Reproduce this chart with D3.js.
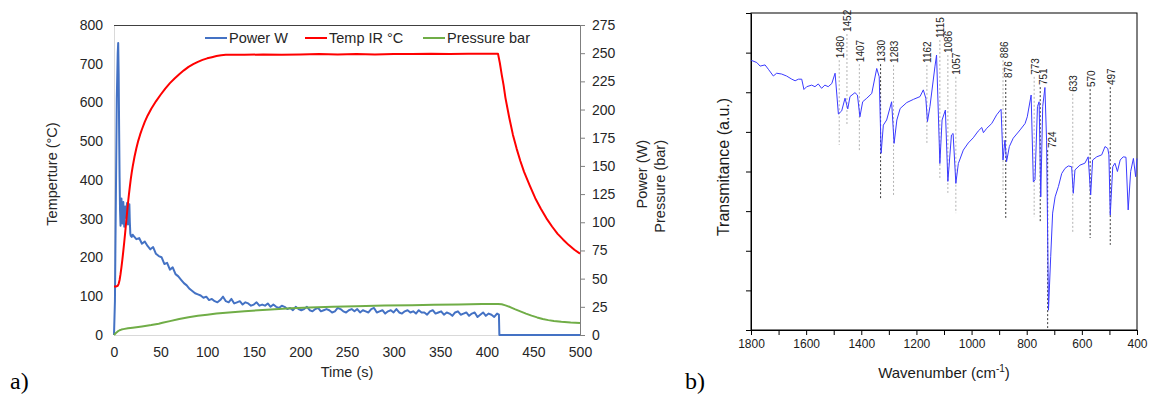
<!DOCTYPE html>
<html>
<head>
<meta charset="utf-8">
<script src="https://cdn.jsdelivr.net/npm/d3@7/dist/d3.min.js"></script>
<style>
  body { margin: 0; background: #fff; }
  svg { display: block; font-family: "Liberation Sans", Arial, sans-serif; }
</style>
</head>
<body>
<div id="chart"></div>
<script>
// ---------- panel a) : heating run ----------
const timeTicks = [0, 50, 100, 150, 200, 250, 300, 350, 400, 450, 500];
const tempTicks = [0, 100, 200, 300, 400, 500, 600, 700, 800];
const rightTicks = [0, 25, 50, 75, 100, 125, 150, 175, 200, 225, 250, 275];
const seriesNames = ['Power W', 'Temp IR °C', 'Pressure bar'];

// Temp IR (°C), left axis
const tempTime = [0, 2, 4, 5, 6, 7, 8, 9, 10, 11, 12, 13, 14, 15, 16, 17, 18, 19, 20, 22, 24, 26, 28, 30, 33, 36, 40, 45,
  50, 55, 60, 65, 70, 75, 80, 85, 90, 95, 100, 105, 110, 115, 120, 140, 160, 180, 200, 220, 240, 260, 280, 300, 320,
  340, 360, 380, 400, 412, 414, 416, 418, 420, 424, 428, 432, 436, 440, 446, 452, 458, 464, 470, 476, 482, 488, 494, 500];
const tempC = [125, 125, 127, 132, 142, 157, 175, 195, 217, 240, 264, 290, 315, 340, 362, 383, 402, 419, 434, 460, 482, 501, 517, 531, 550, 566, 584, 603,
  620, 636, 650, 662, 673, 683, 692, 699, 705, 710, 714, 717, 720, 722, 723, 723, 724, 723, 724, 725, 724, 725, 724, 725, 725,
  726, 725, 726, 726, 726, 702, 672, 645, 612, 562, 517, 481, 449, 421, 386, 353, 326, 301, 280, 261, 246, 232, 220, 210];

// Pressure (bar), right axis
const pressTime = [0, 2, 4, 6, 8, 10, 15, 20, 30, 40, 48, 52, 60, 70, 80, 90, 100, 110, 120, 140, 164, 190, 210, 235, 260,
  290, 320, 343, 370, 395, 412, 416, 420, 425, 430, 436, 442, 448, 454, 460, 466, 472, 480, 490, 500];
const pressBar = [0, 1.8, 3.2, 4.2, 4.8, 5.2, 5.9, 6.5, 7.6, 8.8, 10, 10.8, 12.3, 14.2, 15.8, 17, 18, 19, 19.7, 21, 22.5, 23.7, 24.3, 25, 25.6,
  26.1, 26.5, 26.8, 27.1, 27.4, 27.6, 27.3, 26.3, 24.8, 23, 21, 19, 17.2, 15.6, 14.2, 13.2, 12.4, 11.7, 11.1, 10.7];

// Power (W), right axis: start-up, then logged every 3 s, then switch-off
const powerStartTime = [0, 1, 2, 3, 4, 4.5, 5, 5.5, 6, 6.5, 7, 7.5, 8, 8.5, 9, 9.5, 10, 10.5, 11, 11.5, 12, 12.5, 13, 13.5,
  14, 14.5, 15, 15.5, 16, 16.5, 17, 17.5, 18, 19, 20];
const powerStartW = [0, 30, 120, 210, 250, 259, 232, 182, 140, 110, 97, 108, 121, 110, 99, 106, 118, 103, 96, 108, 114, 110,
  104, 112, 117, 108, 98, 105, 113, 116, 100, 90, 88, 87, 89];
const powerLogStart = 21;
const powerLogStep = 3;
const powerLogW = [
  88, 85, 86, 81, 83, 79, 76, 78, 72, 70,
  69, 63, 64, 58, 60, 54, 52, 49, 46, 44,
  41, 39, 37, 36, 35, 33, 34, 31, 32, 30,
  29, 31, 34, 30, 29, 32, 28, 29, 30, 27,
  29, 28, 26, 27, 29, 26, 27, 26, 28, 25,
  27, 25, 24, 26, 25, 23, 24, 22, 25, 23,
  22, 23, 25, 22, 21, 23, 24, 21, 22, 23,
  22, 20, 21, 24, 23, 21, 20, 22, 23, 21,
  23, 20, 22, 21, 20, 23, 24, 20, 21, 22,
  19, 21, 22, 20, 23, 20, 19, 21, 22, 20,
  21, 19, 22, 20, 20, 18, 21, 22, 19, 20,
  21, 18, 20, 19, 17, 20, 21, 18, 19, 20,
  17, 19, 20, 16, 18, 20, 17, 19, 18, 16,
  19];
const powerEndTime = [413, 413.5, 500];
const powerEndW = [18, 0, 0];

// ---------- panel b) : FTIR spectrum ----------
const wnTicks = [1800, 1700, 1600, 1500, 1400, 1300, 1200, 1100, 1000, 900, 800, 700, 600, 500, 400];
const wnLabels = [1800, 1600, 1400, 1200, 1000, 800, 600, 400];
const transTicks = [0, 1, 2, 3, 4, 5, 6, 7, 8];

const irWn = [1800, 1797, 1779, 1767, 1749, 1737, 1719, 1707, 1689, 1671, 1652, 1640, 1628, 1616, 1608, 1598, 1580, 1568,
  1556, 1544, 1532, 1520, 1507, 1495, 1483, 1471, 1459, 1449, 1441, 1423, 1414, 1405, 1395, 1380, 1362, 1344, 1335, 1328,
  1320, 1308, 1290, 1281, 1271, 1259, 1235, 1211, 1187, 1175, 1166, 1160, 1151, 1133, 1127, 1115, 1107, 1095, 1086, 1073,
  1067, 1057, 1048, 1030, 1012, 994, 976, 963, 957, 945, 927, 909, 893, 886, 879, 873, 863, 849, 824, 806, 798, 784, 776,
  770, 761, 755, 749, 742, 734, 728, 721, 713, 706, 697, 685, 673, 661, 649, 637, 631, 625, 607, 589, 577, 568, 561, 546,
  528, 516, 506, 502, 497, 488, 480, 471, 461, 450, 440, 432, 423, 413, 405, 400];
const irTrans = [6.79, 6.8, 6.75, 6.66, 6.69, 6.58, 6.41, 6.48, 6.46, 6.41, 6.33, 6.29, 6.33, 6.33, 6.07, 6.14, 6.18, 6.14,
  6.21, 6.1, 6.18, 6.14, 6.22, 6.48, 5.45, 5.53, 5.85, 5.58, 5.89, 5.99, 5.93, 5.38, 5.76, 5.85, 5.97, 6.6, 6.39, 4.46,
  5.17, 5.3, 5.76, 4.71, 5.3, 5.59, 5.74, 5.82, 5.89, 6.06, 5.85, 5.26, 5.64, 6.64, 6.94, 4.2, 5.3, 5.55, 3.75, 4.92,
  4.96, 3.7, 4.2, 4.54, 4.72, 4.85, 5.02, 5.11, 4.98, 5.09, 5.21, 5.43, 5.57, 4.29, 4.79, 4.25, 4.63, 4.84, 5.05, 5.21, 5.38, 5.93, 3.74,
  3.79, 5.64, 5.76, 3.36, 5.64, 6.12, 4.79, 0.5, 1.85, 2.95, 3.36, 3.62, 3.95, 4.08, 4.14, 4.12, 3.45, 4.04, 4.16, 4.21, 4.37, 3.41, 4.29, 4.37,
  4.42, 4.63, 4.58, 4.42, 2.9, 4.12, 4.21, 4.0, 4.29, 4.37, 4.36, 3.03, 4.0, 4.33, 3.87, 4.33];

// assigned bands: label level and bottom of the guide line, in transmittance units
const peakWn = [1480, 1452, 1407, 1330, 1283, 1162, 1115, 1086, 1057, 886, 876, 773, 751, 724, 633, 570, 497];
const peakLabelAt = [6.86, 7.52, 6.76, 6.76, 6.74, 6.74, 7.37, 6.99, 6.44, 6.86, 6.36, 6.44, 6.18, 4.59, 6.01, 6.13, 6.18];
const peakLineTo = [4.67, 5.17, 4.54, 3.28, 3.36, 4.67, 3.79, 3.46, 2.95, 3.46, 2.83, 2.85, 2.70, 0.05, 2.47, 2.32, 2.15];
const strongPeaks = [1330, 876, 751, 724, 570, 497];

const svg = d3.select('#chart').append('svg')
  .attr('width', 1149)
  .attr('height', 394);

drawRun();
drawSpectrum();

function drawRun() {
  const x = d3.scaleLinear().domain([0, 500]).range([114, 580]);
  const yT = d3.scaleLinear().domain([0, 800]).range([335, 25]);
  const yR = d3.scaleLinear().domain([0, 275]).range([335, 25]);
  const g = svg.append('g');
  const textCol = '#262626';

  const left = g.append('g').attr('transform', 'translate(114,0)')
    .call(d3.axisLeft(yT).tickValues(tempTicks).tickSize(0).tickPadding(11));
  left.select('.domain').attr('stroke', '#d9d9d9');
  left.selectAll('text').attr('font-size', 14).attr('fill', textCol).attr('font-family', 'Liberation Sans, Arial');

  const bottom = g.append('g').attr('transform', 'translate(0,335)')
    .call(d3.axisBottom(x).tickValues(timeTicks).tickSize(0).tickPadding(12));
  bottom.select('.domain').attr('stroke', '#d9d9d9');
  bottom.selectAll('text').attr('font-size', 14).attr('fill', textCol).attr('font-family', 'Liberation Sans, Arial');

  const right = g.append('g').attr('transform', 'translate(580,0)')
    .call(d3.axisRight(yR).tickValues(rightTicks).tickSizeInner(5).tickSizeOuter(0).tickPadding(7));
  right.select('.domain').attr('stroke', '#7f7f7f');
  right.selectAll('.tick line').attr('stroke', '#7f7f7f');
  right.selectAll('text').attr('font-size', 14).attr('fill', textCol).attr('font-family', 'Liberation Sans, Arial');

  g.append('line').attr('x1', 114).attr('x2', 580).attr('y1', 25.5).attr('y2', 25.5)
    .attr('stroke', '#404040');

  // series
  const powerTime = powerStartTime
    .concat(powerLogW.map((d, i) => powerLogStart + i * powerLogStep))
    .concat(powerEndTime);
  const powerW = powerStartW.concat(powerLogW).concat(powerEndW);

  const lineOf = (ts, vs, y) => d3.line().x((d, i) => x(ts[i])).y(d => y(d))(vs);

  g.append('path').attr('d', lineOf(powerTime, powerW, yR))
    .attr('fill', 'none').attr('stroke', '#4472c4').attr('stroke-width', 2).attr('stroke-linejoin', 'round');
  g.append('path').attr('d', lineOf(tempTime, tempC, yT))
    .attr('fill', 'none').attr('stroke', '#ff0000').attr('stroke-width', 2).attr('stroke-linejoin', 'round');
  g.append('path').attr('d', lineOf(pressTime, pressBar, yR))
    .attr('fill', 'none').attr('stroke', '#70ad47').attr('stroke-width', 2).attr('stroke-linejoin', 'round');

  // legend
  const colors = ['#4472c4', '#ff0000', '#70ad47'];
  const legX = [205, 305, 423];
  seriesNames.forEach((name, i) => {
    g.append('line').attr('x1', legX[i]).attr('x2', legX[i] + 22).attr('y1', 38).attr('y2', 38)
      .attr('stroke', colors[i]).attr('stroke-width', 2);
    g.append('text').attr('x', legX[i] + 24).attr('y', 43).text(name)
      .attr('font-size', 14.5).attr('fill', textCol);
  });

  // titles
  g.append('text').attr('transform', 'translate(52,174) rotate(-90)').attr('dy', '0.35em')
    .attr('text-anchor', 'middle').attr('font-size', 14.5).attr('fill', textCol).text('Temperture (°C)');
  g.append('text').attr('transform', 'translate(642,140) rotate(-90)').attr('dy', '0.35em')
    .attr('text-anchor', 'end').attr('font-size', 14.5).attr('fill', textCol).text('Power (W)');
  g.append('text').attr('transform', 'translate(660,140) rotate(-90)').attr('dy', '0.35em')
    .attr('text-anchor', 'end').attr('font-size', 14.5).attr('fill', textCol).text('Pressure (bar)');
  g.append('text').attr('x', 347).attr('y', 377).attr('text-anchor', 'middle')
    .attr('font-size', 14.5).attr('fill', textCol).text('Time (s)');

  svg.append('text').attr('x', 10).attr('y', 389).attr('font-family', 'Liberation Serif, Times New Roman, serif')
    .attr('font-size', 24).attr('fill', '#000').text('a)');
}

function drawSpectrum() {
  const x = d3.scaleLinear().domain([1800, 400]).range([751, 1137]);
  const y = d3.scaleLinear().domain([0, 8]).range([330, 13]);
  const g = svg.append('g');

  const bottom = g.append('g').attr('transform', 'translate(0,330)')
    .call(d3.axisBottom(x).tickValues(wnTicks).tickSizeInner(5).tickSizeOuter(0).tickPadding(4)
      .tickFormat(d => wnLabels.includes(d) ? d : ''));
  bottom.selectAll('text').attr('font-size', 12).attr('fill', '#1a1a1a').attr('font-family', 'Liberation Sans, Arial');
  bottom.selectAll('line, path').attr('stroke', '#000');

  const left = g.append('g').attr('transform', 'translate(751,0)')
    .call(d3.axisLeft(y).tickValues(transTicks).tickSizeInner(5).tickSizeOuter(0).tickFormat(''));
  left.selectAll('line, path').attr('stroke', '#000');

  g.append('rect').attr('x', 751).attr('y', 13).attr('width', 1137 - 751).attr('height', 330 - 13)
    .attr('fill', 'none').attr('stroke', '#000');

  // guide lines and labels (crowded labels are nudged right a bit)
  const nudge = { 876: 3, 751: 3, 724: 5 };
  peakWn.forEach((wn, i) => {
    const strong = strongPeaks.includes(wn);
    g.append('line')
      .attr('x1', x(wn)).attr('x2', x(wn))
      .attr('y1', y(peakLabelAt[i]) + 2).attr('y2', y(peakLineTo[i]))
      .attr('stroke', strong ? '#222' : '#aaa').attr('stroke-width', 0.9)
      .attr('stroke-dasharray', '2,2');
    g.append('text')
      .attr('transform', `translate(${x(wn) + (nudge[wn] || 1)},${y(peakLabelAt[i])}) rotate(-90)`)
      .attr('dy', '0.35em').attr('font-size', 10).attr('fill', '#222').text(wn);
  });

  g.append('path')
    .attr('d', d3.line().x((d, i) => x(irWn[i])).y(d => y(d))(irTrans))
    .attr('fill', 'none').attr('stroke', '#3b3bff').attr('stroke-width', 1);

  g.append('text').attr('transform', 'translate(723,167) rotate(-90)').attr('dy', '0.35em')
    .attr('text-anchor', 'middle').attr('font-size', 16).attr('fill', '#1a1a1a').text('Transmitance (a.u.)');
  const t = g.append('text').attr('x', 944).attr('y', 378).attr('text-anchor', 'middle')
    .attr('font-size', 15).attr('fill', '#1a1a1a');
  t.append('tspan').text('Wavenumber (cm');
  t.append('tspan').attr('font-size', 10).attr('dy', -6).text('-1');
  t.append('tspan').attr('dy', 6).text(')');

  svg.append('text').attr('x', 685).attr('y', 389).attr('font-family', 'Liberation Serif, Times New Roman, serif')
    .attr('font-size', 24).attr('fill', '#000').text('b)');
}
</script>
</body>
</html>
